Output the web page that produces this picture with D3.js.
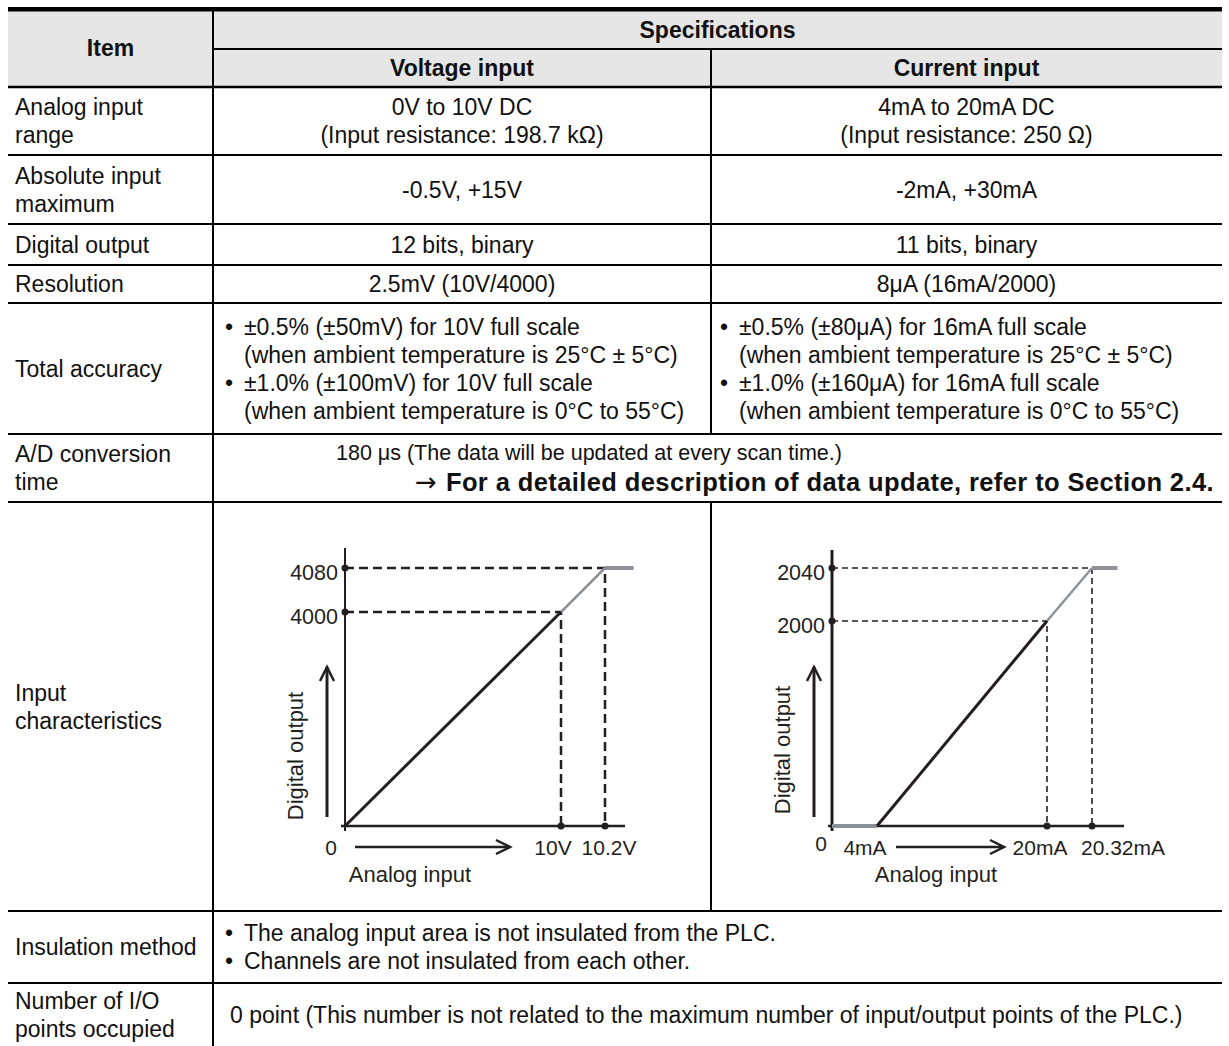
<!DOCTYPE html>
<html>
<head>
<meta charset="utf-8">
<script src="https://cdn.jsdelivr.net/npm/d3@7"></script>
<style>
  body { margin: 0; background: #fff; }
  text { font-family: "Liberation Sans", Arial, Helvetica, sans-serif; fill: #111; }
</style>
</head>
<body>
<div id="sheet"></div>
<script>
// ---- table text
const itemNames = [
  ["Analog input", "range"],
  ["Absolute input", "maximum"],
  ["Digital output"],
  ["Resolution"],
  ["Total accuracy"],
  ["A/D conversion", "time"],
  ["Input", "characteristics"],
  ["Insulation method"],
  ["Number of I/O", "points occupied"]
];
const voltageCells = [
  ["0V to 10V DC", "(Input resistance: 198.7 kΩ)"],
  ["-0.5V, +15V"],
  ["12 bits, binary"],
  ["2.5mV (10V/4000)"]
];
const currentCells = [
  ["4mA to 20mA DC", "(Input resistance: 250 Ω)"],
  ["-2mA, +30mA"],
  ["11 bits, binary"],
  ["8μA (16mA/2000)"]
];
const voltageAccuracy = [
  ["±0.5% (±50mV) for 10V full scale", "(when ambient temperature is 25°C ± 5°C)"],
  ["±1.0% (±100mV) for 10V full scale", "(when ambient temperature is 0°C to 55°C)"]
];
const currentAccuracy = [
  ["±0.5% (±80μA) for 16mA full scale", "(when ambient temperature is 25°C ± 5°C)"],
  ["±1.0% (±160μA) for 16mA full scale", "(when ambient temperature is 0°C to 55°C)"]
];
const conversionTime = "180 μs (The data will be updated at every scan time.)";
const conversionRef = "For a detailed description of data update, refer to Section 2.4.";
const insulationNotes = [
  "The analog input area is not insulated from the PLC.",
  "Channels are not insulated from each other."
];
const ioPoints = "0 point (This number is not related to the maximum number of input/output points of the PLC.)";

// ---- characteristic curves (schematic break points)
const voltageIn = [0, 10, 10.2];
const voltageOut = [0, 4000, 4080];
const voltageXLabels = ["0", "10V", "10.2V"];
const voltageYLabels = ["4000", "4080"];
const currentIn = [0, 4, 20, 20.32];
const currentOut = [0, 0, 2000, 2040];
const currentXLabels = ["0", "4mA", "20mA", "20.32mA"];
const currentYLabels = ["2000", "2040"];

// ---- layout
const W = 1229, H = 1046;
const X0 = 8, X1 = 213, X2 = 711, X3 = 1222;
const rowEdges = [87, 155, 224, 265, 303, 434, 502, 911, 983, 1046];
const LH = 28;
const INK = "#231f20", GREY = "#8c9298";

const svg = d3.select("#sheet").append("svg")
  .attr("width", W).attr("height", H);

// header
svg.append("rect").attr("x", X0).attr("y", 10).attr("width", X3 - X0).attr("height", rowEdges[0] - 10)
  .attr("fill", "#e6e6e6");
svg.append("rect").attr("x", X0).attr("y", 7).attr("width", X3 - X0).attr("height", 4.5).attr("fill", "#000");

function hline(y, xa, xb, w) {
  svg.append("line").attr("x1", xa).attr("x2", xb).attr("y1", y).attr("y2", y)
    .attr("stroke", "#000").attr("stroke-width", w || 2);
}
function vline(x, ya, yb) {
  svg.append("line").attr("x1", x).attr("x2", x).attr("y1", ya).attr("y2", yb)
    .attr("stroke", "#000").attr("stroke-width", 2);
}

hline(49, X1, X3, 2);
rowEdges.slice(0, -1).forEach((y, i) => hline(y, X0, X3, i == 0 ? 2.5 : 2));
vline(X1, 9, H);
vline(X2, 49, rowEdges[5]);
vline(X2, rowEdges[6], rowEdges[7]);

// text block, lines centred on cy
function block(lines, x, cy, anchor, opts) {
  opts = opts || {};
  const n = lines.length;
  lines.forEach((s, i) => {
    svg.append("text")
      .attr("x", x).attr("y", cy + (i - (n - 1) / 2) * LH)
      .attr("dy", "0.36em")
      .attr("text-anchor", anchor)
      .attr("font-size", opts.size || 23)
      .attr("font-weight", opts.bold ? "bold" : "normal")
      .text(s);
  });
}

block(["Item"], (X0 + X1) / 2, 48, "middle", { bold: true });
block(["Specifications"], (X1 + X3) / 2, 30, "middle", { bold: true });
block(["Voltage input"], (X1 + X2) / 2, 68, "middle", { bold: true });
block(["Current input"], (X2 + X3) / 2, 68, "middle", { bold: true });

const mid = i => (rowEdges[i] + rowEdges[i + 1]) / 2;
itemNames.forEach((d, i) => block(d, X0 + 7, mid(i), "start"));

voltageCells.forEach((d, i) => block(d, (X1 + X2) / 2, mid(i), "middle"));
currentCells.forEach((d, i) => block(d, (X2 + X3) / 2, mid(i), "middle"));

function bullets(groups, x, cy) {
  const lines = [];
  groups.forEach(g => g.forEach((s, j) => lines.push({ s: s, dot: j == 0 })));
  const n = lines.length;
  lines.forEach((d, i) => {
    const y = cy + (i - (n - 1) / 2) * LH;
    if (d.dot) block(["•"], x, y, "start");
    block([d.s], x + 19, y, "start");
  });
}
bullets(voltageAccuracy, X1 + 12, mid(4));
bullets(currentAccuracy, X2 + 9, mid(4));

block([conversionTime], 336, mid(5) - LH / 2 - 2, "start", { size: 21.5 });
const ref = svg.append("text")
  .attr("x", 1214).attr("y", mid(5) + LH / 2).attr("dy", "0.36em")
  .attr("text-anchor", "end").attr("font-size", 25.5).attr("letter-spacing", 0.4);
ref.append("tspan").style("font-family", "'DejaVu Sans', sans-serif").attr("font-size", 26).text("→ ");
ref.append("tspan").attr("font-weight", "bold").text(conversionRef);

bullets(insulationNotes.map(s => [s]), X1 + 12, mid(7));
block([ioPoints], X1 + 17, mid(8), "start");

// ---- characteristic charts
function arrowHead(g, x, y, dir) {
  // open chevron, dir: "up" or "right"
  const p = dir == "up"
    ? [[x - 7, y + 14], [x, y], [x + 7, y + 14]]
    : [[x - 14, y - 7], [x, y], [x - 14, y + 7]];
  g.append("path").attr("d", d3.line()(p)).attr("fill", "none")
    .attr("stroke", INK).attr("stroke-width", 2.5);
}

function drawChart(cfg) {
  const g = svg.append("g");
  const x = d3.scaleLinear().domain(cfg.xDomain).range(cfg.xRange);
  const y = d3.scaleLinear().domain(cfg.yDomain).range(cfg.yRange);
  const line = d3.line().x(d => x(d[0])).y(d => y(d[1]));
  const x0 = x(0), y0 = y(0);

  // axes
  g.append("line").attr("x1", x0).attr("x2", x0).attr("y1", cfg.axisTop).attr("y2", y0 + 5)
    .attr("stroke", INK).attr("stroke-width", cfg.yAxisW);
  g.append("line").attr("x1", x0 - 4).attr("x2", cfg.axisRight).attr("y1", y0).attr("y2", y0)
    .attr("stroke", INK).attr("stroke-width", 2.5);

  // dashed guides
  cfg.guides.forEach(p => {
    g.append("path").attr("d", line([[0, p[1]], p, [p[0], 0]]))
      .attr("fill", "none").attr("stroke", INK)
      .attr("stroke-width", cfg.dashW).attr("stroke-dasharray", cfg.dash);
  });

  // curve
  cfg.grey.forEach(seg => {
    g.append("path").attr("d", line(seg.pts)).attr("fill", "none")
      .attr("stroke", GREY).attr("stroke-width", seg.w);
  });
  g.append("path").attr("d", line(cfg.black)).attr("fill", "none")
    .attr("stroke", INK).attr("stroke-width", 3);

  // markers
  cfg.guides.forEach(p => {
    [[0, p[1]], [p[0], 0]].forEach(q => {
      g.append("circle").attr("cx", x(q[0])).attr("cy", y(q[1])).attr("r", 3.5).attr("fill", INK);
    });
  });

  // level labels
  cfg.guides.forEach((p, i) => {
    g.append("text").attr("x", x0 - 7).attr("y", y(p[1]) + 4).attr("dy", "0.36em")
      .attr("text-anchor", "end").attr("font-size", 21.5).style("fill", INK).text(cfg.yLabels[i]);
  });
  // input labels
  cfg.xLabels.forEach((s, i) => {
    g.append("text").attr("x", x(cfg.xTicks[i]) + cfg.xLabelDx[i]).attr("y", y0 + 21 + (cfg.xLabelDy[i] || 0))
      .attr("dy", "0.36em").attr("text-anchor", "middle").attr("font-size", 21)
      .style("fill", INK).text(s);
  });

  // direction arrows
  g.append("line").attr("x1", cfg.hArrow[0]).attr("x2", cfg.hArrow[1])
    .attr("y1", y0 + 21).attr("y2", y0 + 21).attr("stroke", INK).attr("stroke-width", 2.5);
  arrowHead(g, cfg.hArrow[1], y0 + 21, "right");
  g.append("line").attr("x1", x0 - 18).attr("x2", x0 - 18)
    .attr("y1", y0 - 9).attr("y2", cfg.vArrowTop).attr("stroke", INK).attr("stroke-width", 3);
  arrowHead(g, x0 - 18, cfg.vArrowTop, "up");

  g.append("text").attr("transform", `translate(${x0 - 42},${cfg.rotCy}) rotate(-90)`)
    .attr("text-anchor", "middle").attr("font-size", 22).style("fill", INK).text("Digital output");
  g.append("text").attr("x", cfg.labelCx).attr("y", y0 + 48).attr("dy", "0.36em")
    .attr("text-anchor", "middle").attr("font-size", 22).style("fill", INK).text("Analog input");
}

drawChart({
  xDomain: voltageIn, xRange: [345, 561, 605],
  yDomain: voltageOut, yRange: [826, 612, 568],
  axisTop: 548, axisRight: 625, yAxisW: 2,
  dash: "9,5", dashW: 2.5,
  guides: [[voltageIn[1], voltageOut[1]], [voltageIn[2], voltageOut[2]]],
  black: [[voltageIn[0], voltageOut[0]], [voltageIn[1], voltageOut[1]]],
  grey: [
    { pts: [[voltageIn[1], voltageOut[1]], [voltageIn[2], voltageOut[2]]], w: 2.5 },
    { pts: [[voltageIn[2], voltageOut[2]], [10.33, voltageOut[2]]], w: 4 }
  ],
  yLabels: voltageYLabels,
  xTicks: voltageIn, xLabels: voltageXLabels, xLabelDx: [-14, -8, 4], xLabelDy: [0, 0, 0],
  hArrow: [355, 510], vArrowTop: 667, rotCy: 756, labelCx: 410
});

drawChart({
  xDomain: currentIn, xRange: [832, 877, 1047, 1092],
  yDomain: [0, 2000, 2040], yRange: [826, 621, 568],
  axisTop: 550, axisRight: 1124, yAxisW: 3,
  dash: "6,4", dashW: 1.6,
  guides: [[currentIn[2], currentOut[2]], [currentIn[3], currentOut[3]]],
  black: [[currentIn[1], currentOut[1]], [currentIn[2], currentOut[2]]],
  grey: [
    { pts: [[currentIn[0], currentOut[0]], [currentIn[1], currentOut[1]]], w: 4 },
    { pts: [[currentIn[2], currentOut[2]], [currentIn[3], currentOut[3]]], w: 2.5 },
    { pts: [[currentIn[3], currentOut[3]], [20.5, currentOut[3]]], w: 4 }
  ],
  yLabels: currentYLabels,
  xTicks: currentIn, xLabels: currentXLabels, xLabelDx: [-11, -12, -7, 31], xLabelDy: [-4, 0, 0, 0],
  hArrow: [896, 1004], vArrowTop: 667, rotCy: 750, labelCx: 936
});
</script>
</body>
</html>
